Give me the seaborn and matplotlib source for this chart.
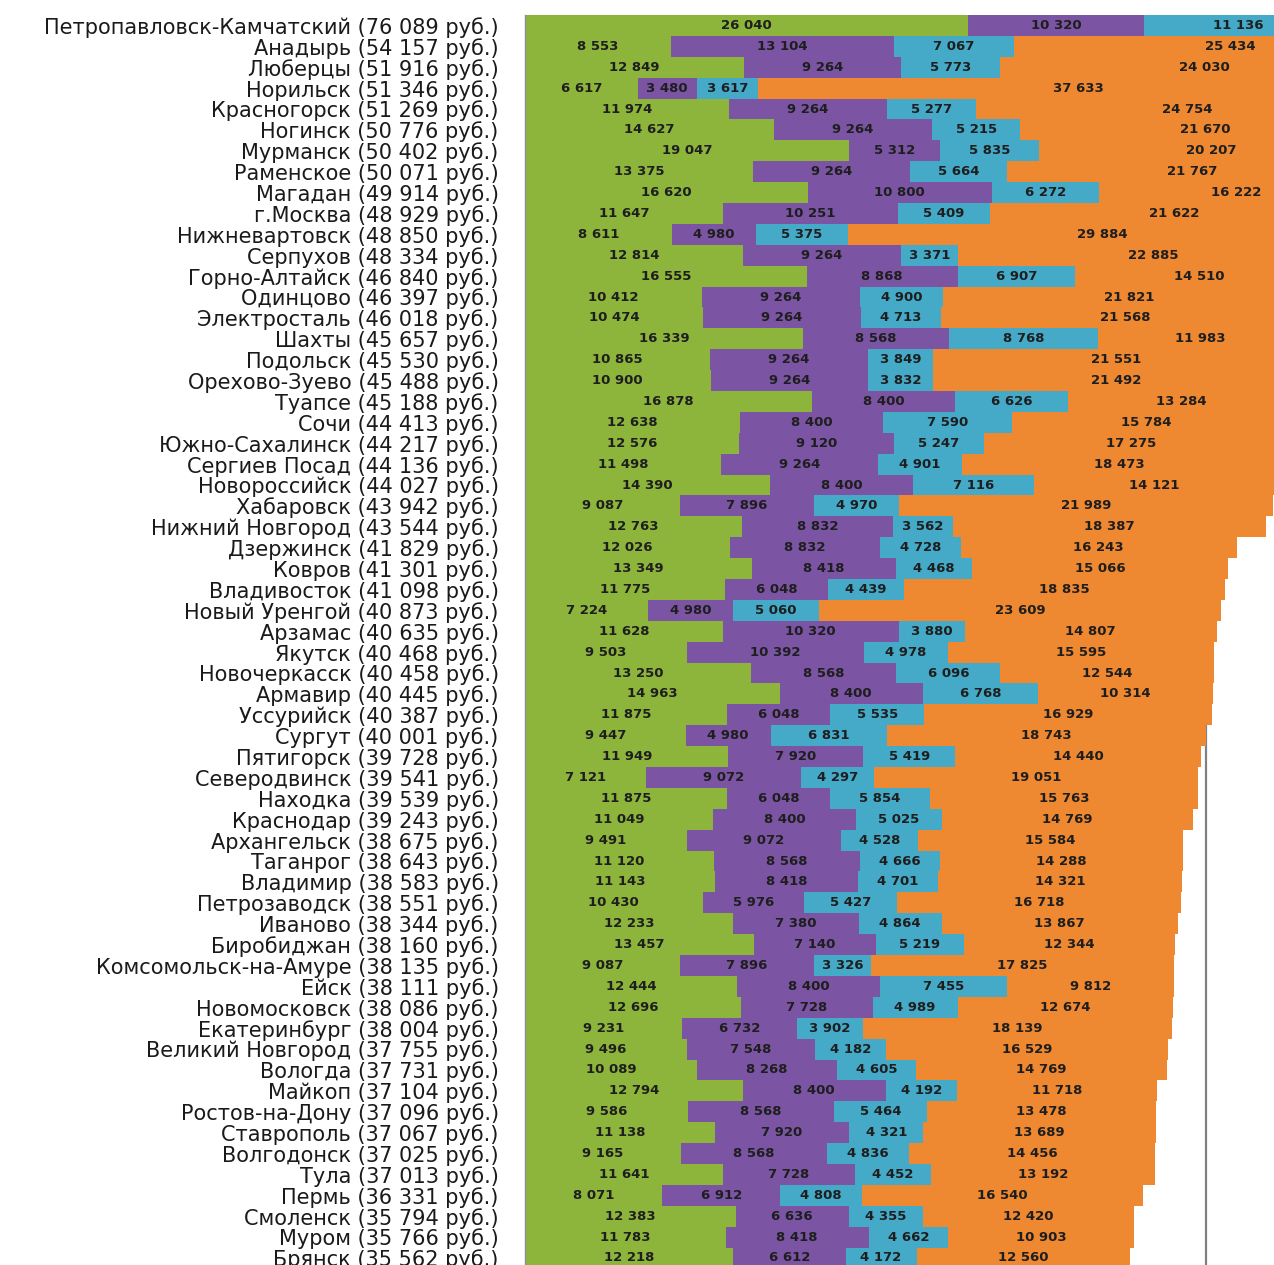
import numpy as np
import pandas as pd
import matplotlib
matplotlib.use('Agg')
import matplotlib.pyplot as plt
import seaborn as sns

# Cities and total salary (rub.)
cities = ['Петропавловск-Камчатский', 'Анадырь', 'Люберцы', 'Норильск', 'Красногорск',
          'Ногинск', 'Мурманск', 'Раменское', 'Магадан', 'г.Москва',
          'Нижневартовск', 'Серпухов', 'Горно-Алтайск', 'Одинцово', 'Электросталь',
          'Шахты', 'Подольск', 'Орехово-Зуево', 'Туапсе', 'Сочи',
          'Южно-Сахалинск', 'Сергиев Посад', 'Новороссийск', 'Хабаровск', 'Нижний Новгород',
          'Дзержинск', 'Ковров', 'Владивосток', 'Новый Уренгой', 'Арзамас',
          'Якутск', 'Новочеркасск', 'Армавир', 'Уссурийск', 'Сургут',
          'Пятигорск', 'Северодвинск', 'Находка', 'Краснодар', 'Архангельск',
          'Таганрог', 'Владимир', 'Петрозаводск', 'Иваново', 'Биробиджан',
          'Комсомольск-на-Амуре', 'Ейск', 'Новомосковск', 'Екатеринбург', 'Великий Новгород',
          'Вологда', 'Майкоп', 'Ростов-на-Дону', 'Ставрополь', 'Волгодонск',
          'Тула', 'Пермь', 'Смоленск', 'Муром', 'Брянск']

totals = [76089, 54157, 51916, 51346, 51269, 50776, 50402, 50071, 49914, 48929,
          48850, 48334, 46840, 46397, 46018, 45657, 45530, 45488, 45188, 44413,
          44217, 44136, 44027, 43942, 43544, 41829, 41301, 41098, 40873, 40635,
          40468, 40458, 40445, 40387, 40001, 39728, 39541, 39539, 39243, 38675,
          38643, 38583, 38551, 38344, 38160, 38135, 38111, 38086, 38004, 37755,
          37731, 37104, 37096, 37067, 37025, 37013, 36331, 35794, 35766, 35562]

green = [26040, 8553, 12849, 6617, 11974, 14627, 19047, 13375, 16620, 11647,
         8611, 12814, 16555, 10412, 10474, 16339, 10865, 10900, 16878, 12638,
         12576, 11498, 14390, 9087, 12763, 12026, 13349, 11775, 7224, 11628,
         9503, 13250, 14963, 11875, 9447, 11949, 7121, 11875, 11049, 9491,
         11120, 11143, 10430, 12233, 13457, 9087, 12444, 12696, 9231, 9496,
         10089, 12794, 9586, 11138, 9165, 11641, 8071, 12383, 11783, 12218]

purple = [10320, 13104, 9264, 3480, 9264, 9264, 5312, 9264, 10800, 10251,
          4980, 9264, 8868, 9264, 9264, 8568, 9264, 9264, 8400, 8400,
          9120, 9264, 8400, 7896, 8832, 8832, 8418, 6048, 4980, 10320,
          10392, 8568, 8400, 6048, 4980, 7920, 9072, 6048, 8400, 9072,
          8568, 8418, 5976, 7380, 7140, 7896, 8400, 7728, 6732, 7548,
          8268, 8400, 8568, 7920, 8568, 7728, 6912, 6636, 8418, 6612]

cyan = [11136, 7067, 5773, 3617, 5277, 5215, 5835, 5664, 6272, 5409,
        5375, 3371, 6907, 4900, 4713, 8768, 3849, 3832, 6626, 7590,
        5247, 4901, 7116, 4970, 3562, 4728, 4468, 4439, 5060, 3880,
        4978, 6096, 6768, 5535, 6831, 5419, 4297, 5854, 5025, 4528,
        4666, 4701, 5427, 4864, 5219, 3326, 7455, 4989, 3902, 4182,
        4605, 4192, 5464, 4321, 4836, 4452, 4808, 4355, 4662, 4172]

orange = [28593, 25434, 24030, 37633, 24754, 21670, 20207, 21767, 16222, 21622,
          29884, 22885, 14510, 21821, 21568, 11983, 21551, 21492, 13284, 15784,
          17275, 18473, 14121, 21989, 18387, 16243, 15066, 18835, 23609, 14807,
          15595, 12544, 10314, 16929, 18743, 14440, 19051, 15763, 14769, 15584,
          14288, 14321, 16718, 13867, 12344, 17825, 9812, 12674, 18139, 16529,
          14769, 11718, 13478, 13689, 14456, 13192, 16540, 12420, 10903, 12560]

colors = ['#8db53c', '#7b55a3', '#45aac8', '#ee8831']

sns.set_style('white')
plt.rcParams['font.family'] = ['DejaVu Sans']

df = pd.DataFrame({'city': cities, 'green': green, 'purple': purple,
                   'cyan': cyan, 'orange': orange})
df['c1'] = df['green']
df['c2'] = df['c1'] + df['purple']
df['c3'] = df['c2'] + df['cyan']
df['c4'] = df['c3'] + df['orange']

fig = plt.figure(figsize=(12.74, 12.65), dpi=100)
ax = fig.add_axes([0.4121, -0.00269, 0.5879, 0.99083])

# thin frame line at 40 000, hidden under longer bars
ax.axvline(40000, color='#808080', lw=1.6, zorder=0)

# stacked bars: draw cumulative sums from the longest down
for col, c in zip(['c4', 'c3', 'c2', 'c1'], colors[::-1]):
    sns.barplot(data=df, x=col, y='city', orient='h', color=c, saturation=1,
                width=1.0, linewidth=0, ax=ax, zorder=2)

# value labels in the middle of each segment
segs = ['green', 'purple', 'cyan', 'orange']
starts = ['c1', 'c2', 'c3', 'c4']
for i in range(len(df)):
    left = 0
    for s, e in zip(segs, starts):
        v = df.loc[i, s]
        ax.text(left + v / 2, i, f'{v:,}'.replace(',', ' '), ha='center', va='center',
                fontsize=9.5, fontweight='bold', color='#1e1e1e', clip_on=True, zorder=3)
        left = df.loc[i, e]

ax.set_xlim(0, 44000)
ax.set_ylim(len(df) - 0.5, -0.5)

labels = [f'{c} ({t:,} руб.)'.replace(',', ' ') for c, t in zip(cities, totals)]
ax.set_yticks(range(len(df)))
ax.set_yticklabels(labels, fontsize=15, color='#1a1a1a')
ax.set_yticks(np.arange(len(df) + 1) - 0.5, minor=True)
ax.tick_params(axis='y', which='major', length=0, pad=19)
ax.tick_params(axis='y', which='minor', length=7, width=1, color='#808080', direction='out')
ax.set_xticks([])
ax.set_xlabel('')
ax.set_ylabel('')

for side in ['top', 'right', 'bottom']:
    ax.spines[side].set_visible(False)
ax.spines['left'].set_color('#909090')
ax.spines['left'].set_linewidth(1)

fig.savefig('out.png', dpi=100)
